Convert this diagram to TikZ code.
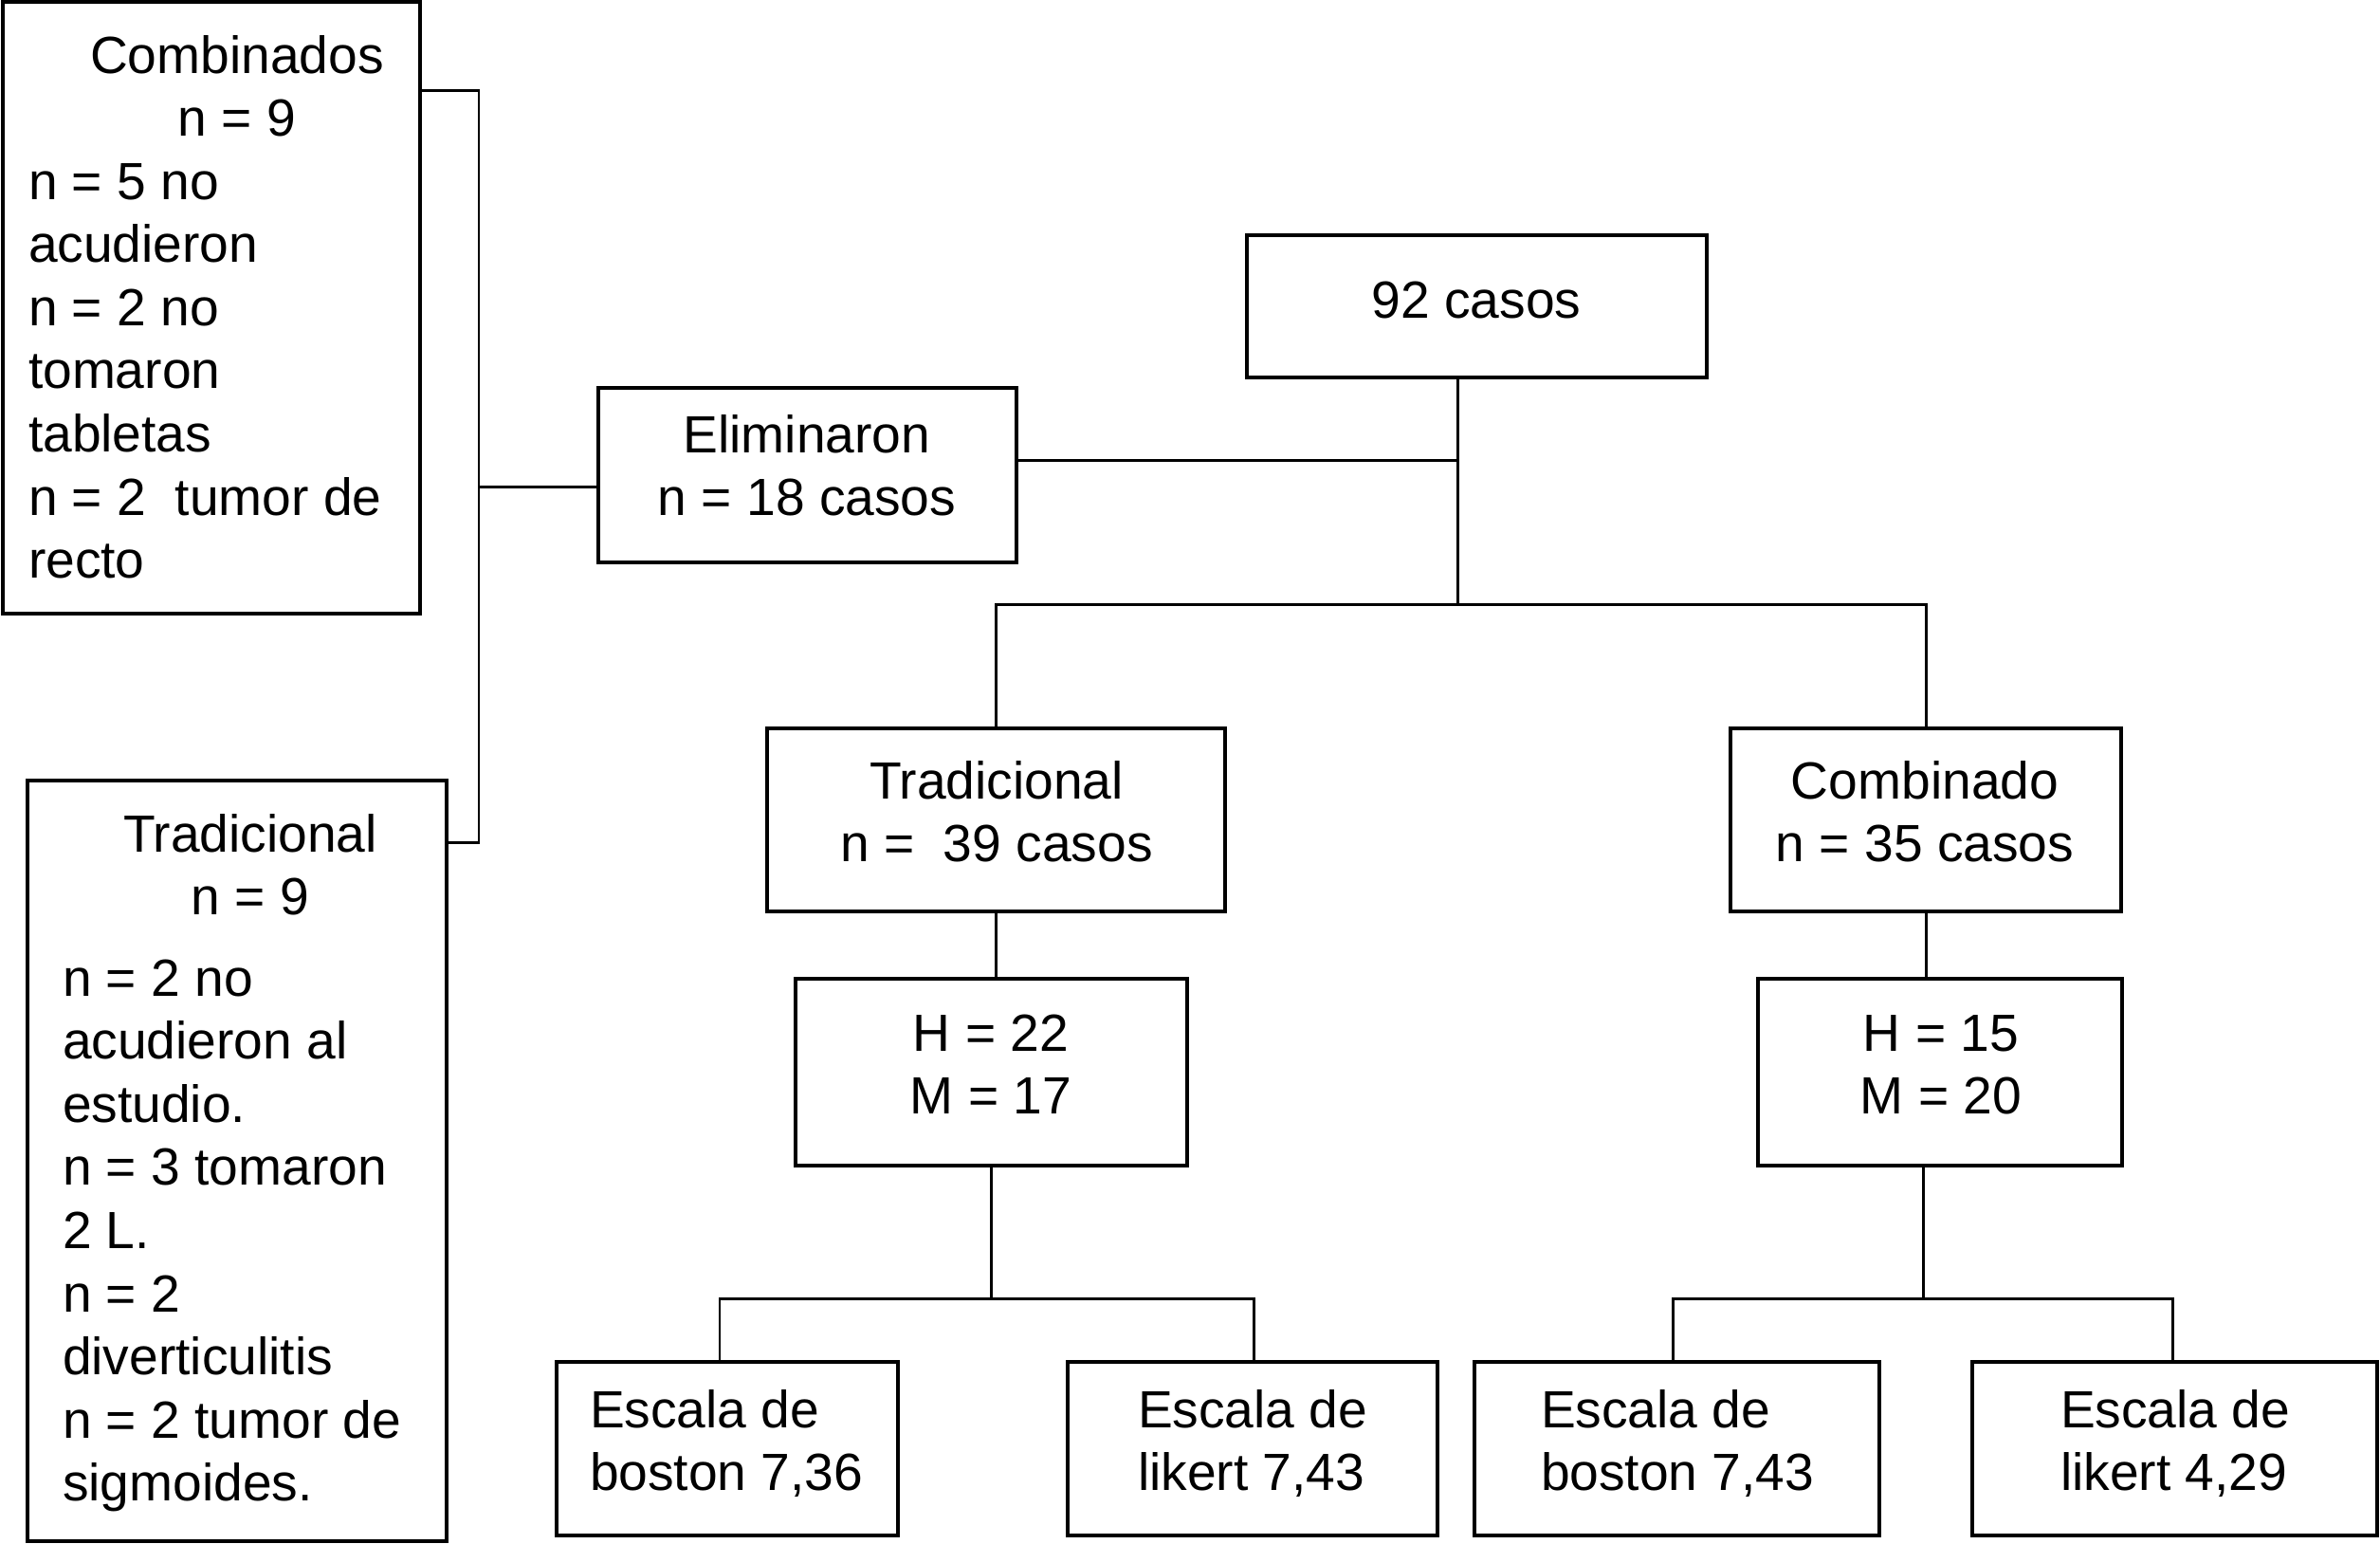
\documentclass[tikz,border=0pt]{standalone}
\usepackage{fontspec}
\setmainfont{Liberation Sans}
\begin{document}
\begin{tikzpicture}[
  box/.style={draw, line width=0.9pt, inner sep=0pt, outer sep=0pt},
  conn/.style={line width=0.85pt},
  txt/.style={inner sep=0pt, outer sep=0pt, font=\fontsize{15.7}{18.95}\selectfont}
]
\newcommand\mybox[5]{\node[box, minimum width={(#4-#2)*0.28453pt}, minimum height={(#5-#3)*0.28453pt}] (#1) at ({(#2+#4)/200},{-(#3+#5)/200}) {};}
\newcommand\llines[1]{\begin{tabular}[t]{@{}l@{}}#1\end{tabular}}
\newcommand\clines[1]{\begin{tabular}[t]{@{}c@{}}#1\end{tabular}}
\useasboundingbox (0,0) rectangle (25.10,-16.27);
% boxes
\mybox{combL}{3}{2}{443}{647}
\mybox{tradL}{29}{823}{471}{1625}
\mybox{elim}{631}{409}{1072}{593}
\mybox{top}{1315}{248}{1800}{398}
\mybox{trad}{809}{768}{1292}{961}
\mybox{comb}{1825}{768}{2237}{961}
\mybox{hA}{839}{1032}{1252}{1229}
\mybox{hB}{1854}{1032}{2238}{1229}
\mybox{eA}{587}{1436}{947}{1619}
\mybox{eB}{1126}{1436}{1516}{1619}
\mybox{eC}{1555}{1436}{1982}{1619}
\mybox{eD}{2080}{1436}{2507}{1619}
% texts
\node[txt, anchor=base] (tcombLh) at (2.50,-0.77) {\clines{Combinados\\n = 9}};
\node[txt, anchor=base west] (tcombLb) at (0.30,-2.10) {\llines{n = 5 no\\acudieron\\n = 2 no\\tomaron\\tabletas\\n = 2\ \ tumor de\\recto}};
\node[txt, anchor=base] (ttradLh) at (2.64,-8.98) {\clines{Tradicional\\n = 9}};
\node[txt, anchor=base west] (ttradLb) at (0.66,-10.50) {\llines{n = 2 no\\acudieron al\\estudio.\\n = 3 tomaron\\2 L.\\n = 2\\diverticulitis\\n = 2 tumor de\\sigmoides.}};
\node[txt, anchor=base] (telim) at (8.51,-4.77) {\clines{Eliminaron\\n = 18 casos}};
\node[txt, anchor=base] (ttop) at (15.57,-3.35) {92 casos};
\node[txt, anchor=base] (ttrad) at (10.51,-8.42) {\clines{Tradicional\\n =\ \ 39 casos}};
\node[txt, anchor=base] (tcomb) at (20.30,-8.42) {\clines{Combinado\\n = 35 casos}};
\node[txt, anchor=base] (thA) at (10.45,-11.08) {\clines{H = 22\\M = 17}};
\node[txt, anchor=base] (thB) at (20.47,-11.08) {\clines{H = 15\\M = 20}};
\node[txt, anchor=base west] (teA) at (6.22,-15.05) {\llines{Escala de\\boston 7,36}};
\node[txt, anchor=base west] (teB) at (12.00,-15.05) {\llines{Escala de\\likert 7,43}};
\node[txt, anchor=base west] (teC) at (16.25,-15.05) {\llines{Escala de\\boston 7,43}};
\node[txt, anchor=base west] (teD) at (21.73,-15.05) {\llines{Escala de\\likert 4,29}};
% junction coordinates
\coordinate (jx) at (5.05,-5.13);
\coordinate (jtop) at (15.37,-3.98);
\coordinate (jel) at (15.37,-4.85);
\coordinate (jbar) at (15.37,-6.37);
\coordinate (jA) at (10.45,-13.69);
\coordinate (jB) at (20.28,-13.69);
\coordinate (dA) at (7.59,-13.69);
\coordinate (dB) at (13.22,-13.69);
\coordinate (dC) at (17.64,-13.69);
\coordinate (dD) at (22.91,-13.69);
% left bracket
\draw[conn] (combL.east |- 0,-0.95) -| (jx) |- (tradL.east |- 0,-8.88);
\draw[conn] (jx) -- (jx -| elim.west);
% top
\draw[conn] (jtop) -- (jbar);
\draw[conn] (elim.east |- jel) -- (jel);
\draw[conn] (trad.north) |- (jbar) -| (comb.north);
\draw[conn] (trad.south) -- (trad.south |- hA.north);
\draw[conn] (comb.south) -- (comb.south |- hB.north);
\draw[conn] (hA.south -| jA) -- (jA);
\draw[conn] (hB.south -| jB) -- (jB);
\draw[conn] (dA |- eA.north) -- (dA) -- (dB) -- (dB |- eB.north);
\draw[conn] (dC |- eC.north) -- (dC) -- (dD) -- (dD |- eD.north);
\end{tikzpicture}
\end{document}
